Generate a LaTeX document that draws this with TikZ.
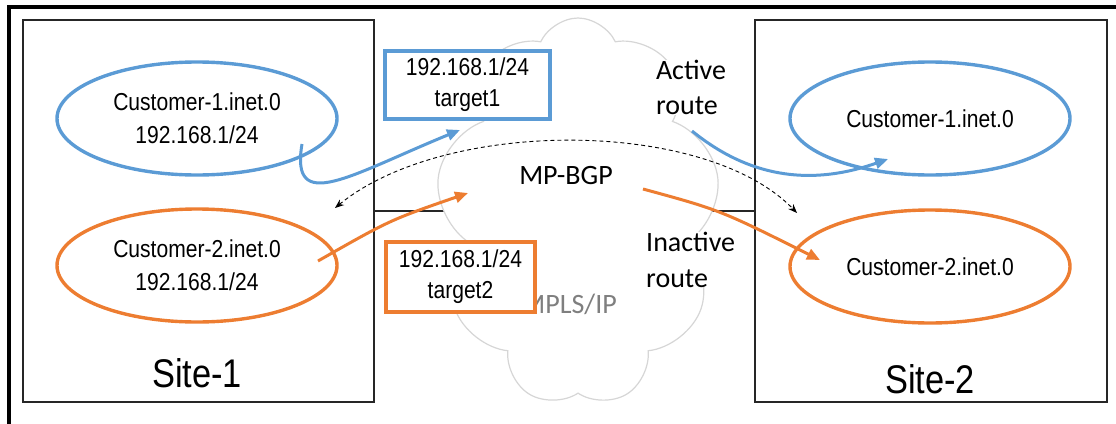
\documentclass[tikz,border=0pt]{standalone}
\usepackage{fontspec}
\setmainfont{Liberation Sans}
\newfontfamily\narrowfont[FakeStretch=0.86]{Liberation Sans}
\newfontfamily\calfont{Carlito}
\usetikzlibrary{shapes.symbols,shapes.geometric,arrows.meta}
\definecolor{myblue}{HTML}{5B9BD5}
\definecolor{myorange}{HTML}{ED7D31}
\definecolor{cloudgray}{HTML}{D6D6D6}
\definecolor{mplsgray}{HTML}{7F7F7F}
\begin{document}
\begin{tikzpicture}[x=1pt,y=-1pt,
  ellfont/.style={font=\narrowfont\fontsize{24.5}{33}\selectfont},
  ell/.style={ellipse, line width=3.4pt, minimum width=280pt, minimum height=113pt, inner sep=0pt, align=center, ellfont},
  sitebox/.style={draw=black!85, line width=1.2pt, minimum width=351pt, minimum height=382pt, inner sep=0pt},
  sitelabel/.style={font=\narrowfont\fontsize{40}{48}\selectfont, inner sep=0pt},
  tagbox/.style={fill=white, line width=3.4pt, align=center, inner sep=0pt, font=\narrowfont\fontsize{24.5}{31}\selectfont},
  calib/.style={font=\calfont\fontsize{28}{35.5}\selectfont, align=left, inner sep=0pt},
  bluearrow/.style={draw=myblue, line width=3pt, -{Triangle[length=13pt,width=11pt]}},
  orangearrow/.style={draw=myorange, line width=3pt, -{Triangle[length=13pt,width=11pt]}},
  bgparrow/.style={draw=black, line width=0.9pt, dash pattern=on 4pt off 3pt, {Stealth[length=9pt,width=7pt]}-{Stealth[length=9pt,width=7pt]}}
]
\useasboundingbox (0,0) rectangle (1116,423);
% outer frame
\draw[line width=3.2pt] (9,440) -- (9,7) -- (1130,7);
% site boxes
\node[sitebox] (site1) at (198.5,211) {};
\node[sitebox, minimum width=352pt] (site2) at (931,211) {};
\draw[line width=1.2pt, black!85] (site1.east) -- (site2.west);
% cloud
\node[cloud, cloud puffs=9, cloud puff arc=130, cloud ignores aspect, draw=cloudgray, fill=white, line width=1.2pt, minimum width=284pt, minimum height=388pt, inner sep=0pt] (cloud) at (578,212) {};
\node[font=\calfont\fontsize{28}{34}\selectfont, text=mplsgray, anchor=base east, inner sep=0pt] (mpls) at (617,313) {MPLS/IP};
% site labels
\node[sitelabel] (s1lab) at (197,373) {Site-1};
\node[sitelabel] (s2lab) at (930,379) {Site-2};
% ellipses
\node[ell, draw=myblue] (c1l) at (197,118.5) {Customer-1.inet.0\\192.168.1/24};
\node[ell, draw=myorange] (c2l) at (197,265.5) {Customer-2.inet.0\\192.168.1/24};
\node[ell, draw=myblue] (c1r) at (930,118.5) {Customer-1.inet.0};
\node[ell, draw=myorange] (c2r) at (930,266.5) {Customer-2.inet.0};
% tag boxes
\node[tagbox, draw=myblue, minimum width=165pt, minimum height=68pt] (t1) at (467.5,85) {192.168.1/24\\target1};
\node[tagbox, draw=myorange, minimum width=149pt, minimum height=70pt] (t2) at (460.5,277) {192.168.1/24\\target2};
% route labels
\node[calib, fill=white, anchor=north west, outer sep=0pt] (act) at (656,60) {Active\\route};
\node[calib, fill=white, anchor=north west] (inact) at (646,232) {Inactive\\route};
\node[font=\calfont\fontsize{28}{34}\selectfont, anchor=base, inner sep=0pt] (bgp) at (566,184) {MP-BGP};
% arrow end points
\coordinate (b1s) at (302,144);
\coordinate (b1e) at (460,130);
\coordinate (b2s) at (692,131);
\coordinate (b2e) at (888,159);
\coordinate (o1s) at (318,261);
\coordinate (o1e) at (468,193);
\coordinate (o2s) at (643,189);
\coordinate (o2e) at (820,260);
\coordinate (dl) at (335,208);
\coordinate (dr) at (797,213);
% arrows
\draw[bgparrow] (dl) .. controls (445,118) and (705,118) .. (dr);
\draw[bluearrow] (b1s) .. controls (290,215) and (350,175) .. (b1e);
\draw[bluearrow] (b2s) .. controls (740,170) and (800,190) .. (b2e);
\draw[orangearrow] (o1s) .. controls (390,220) .. (o1e);
\draw[orangearrow] (o2s) .. controls (720,210) .. (o2e);
\end{tikzpicture}
\end{document}
